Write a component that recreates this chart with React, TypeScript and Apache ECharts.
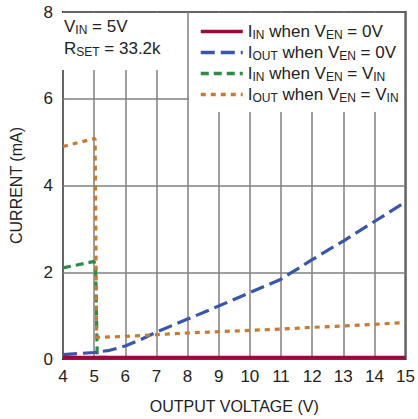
import React, { useEffect, useRef } from "react";
import * as echarts from "echarts";

const xTicks = [4, 5, 6, 7, 8, 9, 10, 11, 12, 13, 14, 15];
const yTicks = [0, 2, 4, 6, 8];

const redX = [4, 5, 6, 7, 8, 9, 10, 11, 12, 13, 14, 15];
const redY = [0.03, 0.03, 0.03, 0.03, 0.03, 0.03, 0.03, 0.03, 0.03, 0.03, 0.03, 0.03];

const blueX = [4, 5, 5.5, 6, 6.5, 7, 8, 9, 10, 11, 12, 13, 14, 15];
const blueY = [0.1, 0.15, 0.2, 0.3, 0.45, 0.62, 0.92, 1.22, 1.53, 1.84, 2.29, 2.72, 3.17, 3.62];

const greenX = [4, 5, 5.05, 5.1, 6, 10, 15];
const greenY = [2.1, 2.25, 2.1, 0.04, 0.03, 0.03, 0.03];

const orangeX = [4, 5, 5.03, 5.08, 6, 7, 8, 9, 10, 11, 12, 13, 14, 15];
const orangeY = [4.9, 5.08, 5.08, 0.5, 0.52, 0.56, 0.6, 0.63, 0.66, 0.69, 0.73, 0.76, 0.8, 0.84];

const seriesNames = ["inEn0", "outEn0", "inEnVin", "outEnVin"];

const FONT = "'Liberation Sans Narrow', 'Arial Narrow', 'Liberation Sans', sans-serif";

const zip = (xs: number[], ys: number[]) => xs.map((x, i) => [x, ys[i]]);

const legendText: Record<string, string> = {
  inEn0: "{n|I}{s|IN}{n| when V}{s|EN}{n| = 0V}",
  outEn0: "{n|I}{s|OUT}{n| when V}{s|EN}{n| = 0V}",
  inEnVin: "{n|I}{s|IN}{n| when V}{s|EN}{n| = V}{s|IN}",
  outEnVin: "{n|I}{s|OUT}{n| when V}{s|EN}{n| = V}{s|IN}",
};

export default function App() {
  const ref = useRef<HTMLDivElement>(null);
  useEffect(() => {
    if (!ref.current) return;
    const chart = echarts.init(ref.current, undefined, { renderer: "svg" });
    const option: any = {
      animation: false,
      backgroundColor: "#ffffff",
      textStyle: { fontFamily: FONT },
      grid: {
        left: 57,
        right: 10,
        top: 12,
        bottom: 57,
        show: true,
        borderColor: "#111",
        borderWidth: 2,
      },
      xAxis: {
        type: "value",
        min: 4,
        max: 15,
        interval: 1,
        name: "OUTPUT VOLTAGE (V)",
        nameLocation: "middle",
        nameGap: 39,
        nameTextStyle: { fontSize: 16, color: "#222", fontFamily: FONT },
        axisLine: { show: false },
        axisTick: { show: false },
        axisLabel: {
          fontSize: 17,
          color: "#222",
          margin: 9,
          fontFamily: FONT,
          formatter: (v: number) => (xTicks.includes(v) ? String(v) : ""),
        },
        splitLine: { show: true, lineStyle: { color: "#808080", width: 1.5 } },
      },
      yAxis: {
        type: "value",
        min: 0,
        max: 8,
        interval: 2,
        name: "CURRENT (mA)",
        nameLocation: "middle",
        nameGap: 39,
        nameTextStyle: { fontSize: 16, color: "#222", fontFamily: FONT },
        axisLine: { show: false },
        axisTick: { show: false },
        axisLabel: {
          fontSize: 17,
          color: "#222",
          margin: 10,
          fontFamily: FONT,
          formatter: (v: number) => (yTicks.includes(v) ? String(v) : ""),
        },
        splitLine: { show: true, lineStyle: { color: "#808080", width: 1.5 } },
      },
      legend: {
        orient: "vertical",
        left: 194,
        top: 18,
        itemGap: 3,
        itemWidth: 42,
        itemHeight: 18,
        data: seriesNames,
        itemStyle: { opacity: 0 },
        lineStyle: { width: 3.5 },
        formatter: (name: string) => legendText[name],
        textStyle: {
          fontFamily: FONT,
          rich: {
            n: { fontSize: 17, color: "#222", fontFamily: FONT },
            s: { fontSize: 12, color: "#222", fontFamily: FONT, padding: [7, 0, 0, 0] },
          },
        },
      },
      graphic: [
        {
          type: "rect",
          z: 1,
          shape: { x: 58, y: 13, width: 125, height: 57 },
          style: { fill: "#ffffff" },
        },
        {
          type: "rect",
          z: 1,
          shape: { x: 189, y: 13, width: 215, height: 99 },
          style: { fill: "#ffffff" },
        },
        {
          type: "text",
          z: 3,
          left: 64,
          top: 17,
          style: {
            text: "{n|V}{s|IN}{n| = 5V}\n{n|R}{s|SET}{n| = 33.2k}",
            rich: {
              n: { fontSize: 17, fill: "#222", fontFamily: FONT, lineHeight: 22 },
              s: { fontSize: 12, fill: "#222", fontFamily: FONT, padding: [7, 0, 0, 0], lineHeight: 22 },
            },
          },
        },
      ],
      series: [
        {
          name: "inEnVin",
          type: "line",
          symbol: "none",
          z: 3,
          data: zip(greenX, greenY),
          lineStyle: { color: "#2f8a4a", width: 3.2, type: [8, 5] },
          itemStyle: { color: "#2f8a4a" },
        },
        {
          name: "outEn0",
          type: "line",
          symbol: "none",
          z: 4,
          data: zip(blueX, blueY),
          lineStyle: { color: "#3a56a8", width: 3.2, type: [14, 6] },
          itemStyle: { color: "#3a56a8" },
        },
        {
          name: "outEnVin",
          type: "line",
          symbol: "none",
          z: 4,
          data: zip(orangeX, orangeY),
          lineStyle: { color: "#c87a33", width: 3.2, type: [5, 5] },
          itemStyle: { color: "#c87a33" },
        },
        {
          name: "inEn0",
          type: "line",
          symbol: "none",
          z: 5,
          data: zip(redX, redY),
          lineStyle: { color: "#9a0a3c", width: 4, type: "solid" },
          itemStyle: { color: "#9a0a3c" },
        },
      ],
    };
    chart.setOption(option);
    return () => chart.dispose();
  }, []);
  return <div ref={ref} style={{ width: 418, height: 419, position: "absolute", left: 0, top: 0 }} />;
}
